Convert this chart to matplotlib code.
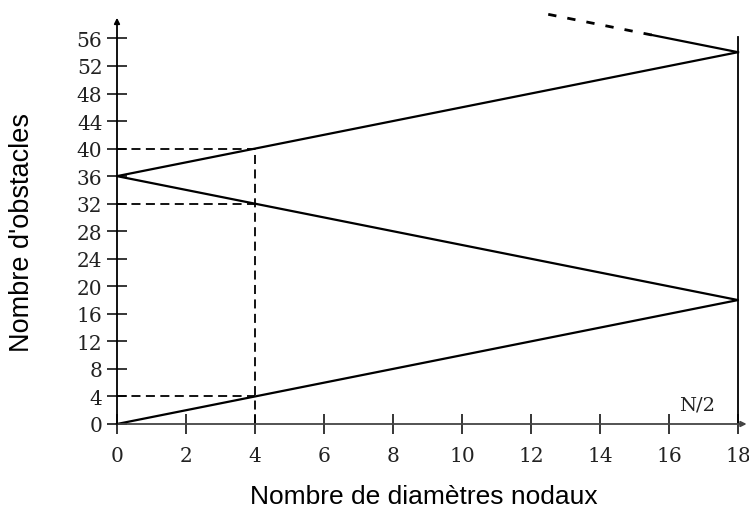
import matplotlib.pyplot as plt

# zigzag of obstacle counts vs nodal diameters
zig_x = [0, 18, 0, 18]
zig_y = [0, 18, 36, 54]
# continuation beyond 54 (solid part, then dashed)
cont_solid_x = [18, 15.5]
cont_solid_y = [54, 56.5]
cont_dash_x = [15.5, 12.5]
cont_dash_y = [56.5, 59.5]
# reading lines at x = 4
read_x = 4
read_y = [40, 32, 4]
xticks = list(range(0, 19, 2))
yticks = list(range(0, 57, 4))

fig = plt.figure(figsize=(7.49, 5.10), dpi=100)
ax = fig.add_axes([117 / 749, 85 / 510, 629.6 / 749, 420 / 510])
ax.set_xlim(0, 18.25)
ax.set_ylim(0, 61)
for s in ax.spines.values():
    s.set_visible(False)

ax.plot(zig_x, zig_y, color="black", lw=1.6, clip_on=False)
ax.plot(cont_solid_x, cont_solid_y, color="black", lw=1.6, clip_on=False)
ax.plot(cont_dash_x, cont_dash_y, color="black", lw=2.0, ls=(0, (3, 4)), clip_on=False)
ax.plot([18, 18], [0, 56.2], color="black", lw=1.3)

for y in read_y:
    ax.plot([0, read_x], [y, y], color="black", lw=1.3, ls=(0, (5, 3)))
ax.plot([read_x, read_x], [0, max(read_y)], color="black", lw=1.3, ls=(0, (5, 3)))

# axes with arrows
ax.annotate("", xy=(18.25, 0), xytext=(0, 0),
            arrowprops=dict(arrowstyle="-|>", lw=1.3, color="#444444", mutation_scale=8,
                            shrinkA=0, shrinkB=0), annotation_clip=False)
ax.annotate("", xy=(0, 59), xytext=(0, 0),
            arrowprops=dict(arrowstyle="-|>", lw=1.3, color="black", mutation_scale=8,
                            shrinkA=0, shrinkB=0), annotation_clip=False)

ax.set_xticks(xticks)
ax.set_yticks(yticks)
ax.tick_params(direction="inout", length=15, width=1.1, labelsize=14.5, color="black")
ax.tick_params(axis="y", pad=3)
ax.tick_params(axis="x", pad=8)
for lab in ax.get_xticklabels() + ax.get_yticklabels():
    lab.set_fontfamily("DejaVu Serif")
    lab.set_color("#222222")

ax.text(16.8, 2.9, "N/2", family="DejaVu Serif", fontsize=14, ha="center", va="center",
        color="#222222")

fig.text(424 / 749, 1 - 504 / 510, "Nombre de diamètres nodaux", family="Liberation Sans",
         fontsize=19, ha="center", va="baseline")
fig.text(22 / 749, 1 - 233 / 510, "Nombre d'obstacles", family="Liberation Sans",
         fontsize=19.5, ha="center", va="center", rotation=90)

fig.savefig("out.png", dpi=100)
